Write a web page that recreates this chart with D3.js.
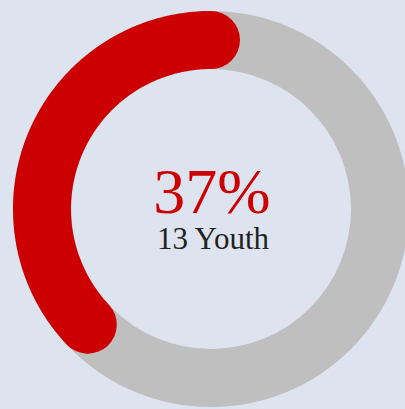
<!DOCTYPE html>
<html>
<head>
<meta charset="utf-8">
<script src="https://cdn.jsdelivr.net/npm/d3@7"></script>
<style>
  html, body { margin: 0; padding: 0; background: #dde4ef; }
  svg { display: block; }
</style>
</head>
<body>
<svg id="chart" width="405" height="409"></svg>
<script>
// Share of youth in the group
const percent = [37];
const countLabel = ["13 Youth"];
const colors = ["#cc0000", "#bfbfbf"];

const width = 405, height = 409;
const cx = 211, cy = 209;
const outerR = 198, innerR = 140;
const midR = (outerR + innerR) / 2;
const thickness = outerR - innerR;

const svg = d3.select("#chart");
const g = svg.append("g").attr("transform", `translate(${cx},${cy})`);

// percent -> angle, running counter-clockwise from 12 o'clock
const angle = d3.scaleLinear().domain([0, 100]).range([0, -2 * Math.PI]);

// full track ring
g.append("path")
  .attr("d", d3.arc().innerRadius(innerR).outerRadius(outerR).startAngle(0).endAngle(2 * Math.PI)())
  .attr("fill", colors[1]);

// value arc: open centerline path stroked thick with rounded ends
const a1 = angle(percent[0]);
const pts = d3.range(0, 201).map(i => {
  const t = a1 * i / 200;
  return [midR * Math.sin(t), -midR * Math.cos(t)];
});
g.append("path")
  .attr("d", d3.line()(pts))
  .attr("fill", "none")
  .attr("stroke", colors[0])
  .attr("stroke-width", thickness)
  .attr("stroke-linecap", "round");

// centre labels
g.append("text")
  .attr("x", 1).attr("y", 4)
  .attr("text-anchor", "middle")
  .attr("font-family", "'Liberation Serif', 'Times New Roman', serif")
  .attr("font-size", 64)
  .attr("fill", colors[0])
  .text(percent[0] + "%");

g.append("text")
  .attr("x", 2).attr("y", 40)
  .attr("text-anchor", "middle")
  .attr("font-family", "'Liberation Serif', 'Times New Roman', serif")
  .attr("font-size", 31)
  .attr("fill", "#222222")
  .text(countLabel[0]);
</script>
</body>
</html>
